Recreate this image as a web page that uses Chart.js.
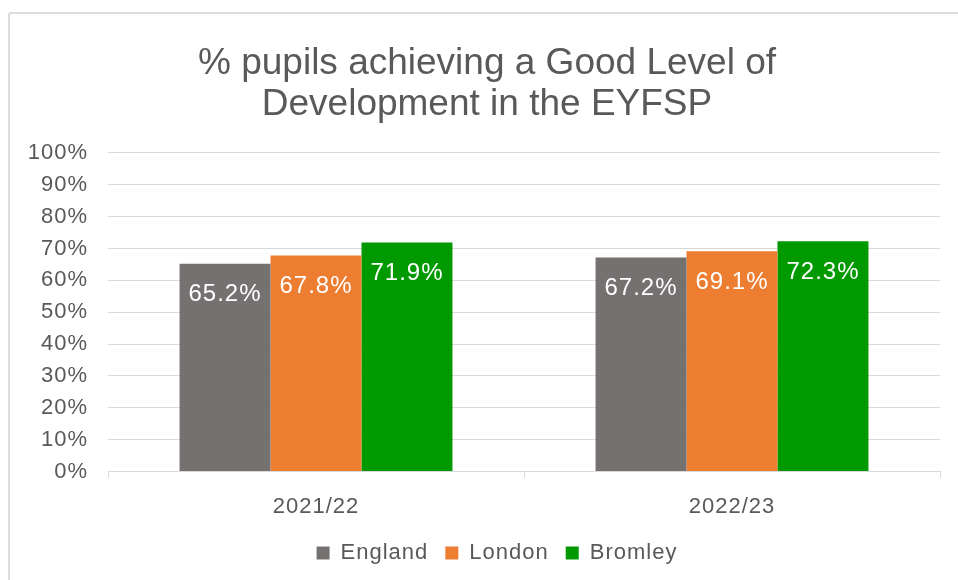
<!DOCTYPE html>
<html>
<head>
<meta charset="utf-8">
<script src="https://cdn.jsdelivr.net/npm/chart.js@4/dist/chart.umd.min.js"></script>
<style>
  html, body { margin: 0; padding: 0; background: #fff; overflow: hidden; }
  #wrap { position: relative; width: 958px; height: 580px; }
  #frame {
    position: absolute; left: 8px; top: 12px; width: 1000px; height: 620px;
    border-left: 2px solid #dcdcdc; border-top: 2px solid #dcdcdc;
    border-radius: 3px 0 0 0;
  }
  #chart { position: absolute; left: 0; top: 0; }
</style>
</head>
<body>
<div id="wrap">
  <div id="frame"></div>
  <canvas id="chart" width="958" height="580"></canvas>
</div>
<script>
// School years on the x axis
const years = ["2021/22", "2022/23"];

// % of pupils reaching a Good Level of Development
const england = [65.2, 67.2];
const london = [67.8, 69.1];
const bromley = [71.9, 72.3];

// y axis runs 0..100 in steps of 10
const yMin = 0;
const yMax = 100;
const yStep = 10;

const TEXT_GREY = "#595959";
const GRID_GREY = "#d9d9d9";
const FONT = "'Liberation Sans', Arial, sans-serif";

// Slightly looser glyph spacing for axis/legend/value text,
// while the title keeps normal spacing.
const spacingPlugin = {
  id: "spacing",
  afterInit(chart) {
    const tb = chart.titleBlock;
    if (!tb) return;
    const origDraw = tb.draw.bind(tb);
    tb.draw = function (...args) {
      const c = chart.ctx;
      const prev = c.letterSpacing;
      c.letterSpacing = "0px";
      origDraw(...args);
      c.letterSpacing = prev;
    };
  },
  afterLayout(chart) {
    // let the y tick labels use the space left of the layout padding
    // (labels are clipped to the scale box otherwise)
    chart.scales.y.left = 0;
  },
  beforeDraw(chart) {
    chart.ctx.letterSpacing = "1px";
  },
};

// White value labels sitting just inside the top of each bar
const valueLabels = {
  id: "valueLabels",
  afterDatasetsDraw(chart) {
    const ctx = chart.ctx;
    ctx.save();
    ctx.font = "24px " + FONT;
    ctx.fillStyle = "#ffffff";
    ctx.textAlign = "center";
    ctx.textBaseline = "middle";
    chart.data.datasets.forEach((ds, i) => {
      const meta = chart.getDatasetMeta(i);
      meta.data.forEach((bar, j) => {
        ctx.fillText(ds.data[j].toFixed(1) + "%", bar.x, bar.y + 31);
      });
    });
    ctx.restore();
  },
};

const ctx = document.getElementById("chart").getContext("2d");

new Chart(ctx, {
  type: "bar",
  data: {
    labels: years,
    datasets: [
      { label: "England", data: england, backgroundColor: "#767171" },
      { label: "London", data: london, backgroundColor: "#ed7d31" },
      { label: "Bromley", data: bromley, backgroundColor: "#009900" },
    ],
  },
  plugins: [spacingPlugin, valueLabels],
  options: {
    responsive: false,
    animation: false,
    devicePixelRatio: 1,
    layout: { padding: { left: 34, right: 18, top: 12, bottom: 6 } },
    datasets: {
      bar: { categoryPercentage: 0.656, barPercentage: 1.0 },
    },
    plugins: {
      title: {
        display: true,
        text: ["% pupils achieving a Good Level of", "Development in the EYFSP"],
        color: TEXT_GREY,
        font: { family: FONT, size: 37, weight: "normal", lineHeight: 1.12 },
        padding: { top: 31, bottom: 27 },
      },
      legend: {
        position: "bottom",
        labels: {
          color: TEXT_GREY,
          font: { family: FONT, size: 22 },
          boxWidth: 13,
          boxHeight: 13,
          padding: 17,
        },
      },
      tooltip: { enabled: false },
    },
    scales: {
      x: {
        afterFit(scale) { scale.height -= 11; },
        grid: {
          display: true,
          drawOnChartArea: false,
          drawTicks: true,
          tickLength: 6,
          color: GRID_GREY,
        },
        border: { display: true, color: GRID_GREY, width: 1 },
        ticks: {
          color: TEXT_GREY,
          padding: 16,
          font: { family: FONT, size: 22 },
        },
      },
      y: {
        min: yMin,
        max: yMax,
        afterFit(scale) { scale.width = 74; },
        grid: { color: GRID_GREY, drawTicks: false },
        border: { display: false },
        ticks: {
          stepSize: yStep,
          color: TEXT_GREY,
          padding: 20,
          font: { family: FONT, size: 22 },
          callback: (v) => v + "%",
        },
      },
    },
  },
});
</script>
</body>
</html>
